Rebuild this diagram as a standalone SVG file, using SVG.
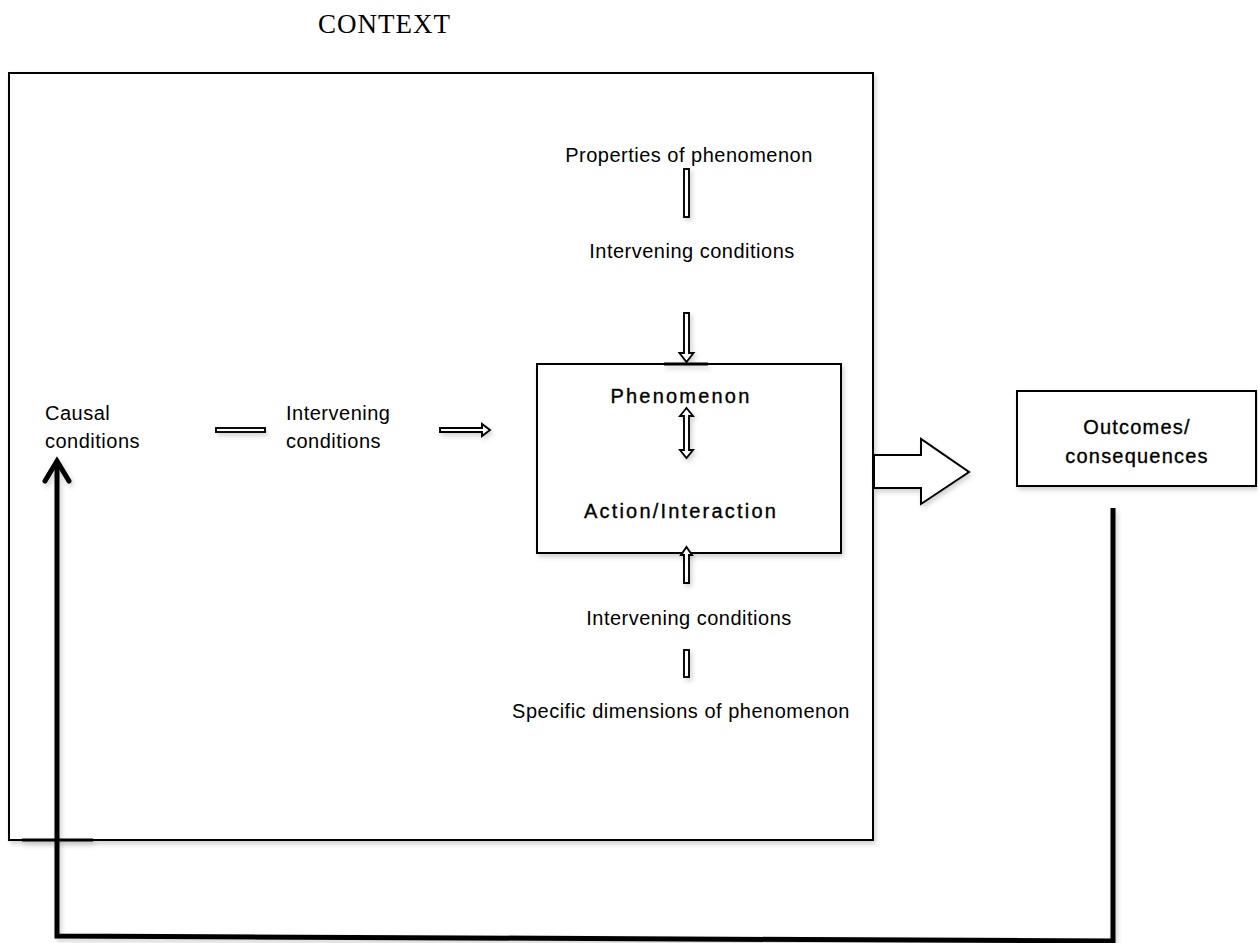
<svg xmlns="http://www.w3.org/2000/svg" width="1258" height="943" viewBox="0 0 1258 943">
<style>
.t{font-family:"Liberation Sans",Arial,sans-serif;font-size:20px;letter-spacing:0.5px;fill:#000}
.b{font-family:"Liberation Sans",Arial,sans-serif;font-size:20px;letter-spacing:2.2px;fill:#000;stroke:#000;stroke-width:0.35}
.box{fill:#fff;stroke:#000;stroke-width:2}
.dbl{fill:#fff;stroke:#000;stroke-width:1.9;stroke-linejoin:miter}
.thick{fill:none;stroke:#000;stroke-width:5;stroke-linejoin:miter}
</style>
<defs>
<filter id="sh" x="-10%" y="-10%" width="120%" height="120%">
<feDropShadow dx="2" dy="3" stdDeviation="2.5" flood-color="#000" flood-opacity="0.18"/>
</filter>
</defs>
<rect width="1258" height="943" fill="#fff"/>
<text x="318" y="33" font-family="Liberation Serif,'Times New Roman',serif" font-size="27" letter-spacing="1" fill="#000">CONTEXT</text>
<g id="context">
<rect class="box" x="9" y="73" width="864" height="767" filter="url(#sh)"/>
</g>
<g id="properties"><text class="t" x="689" y="162" text-anchor="middle">Properties of phenomenon</text></g>
<g id="intervening-top"><text class="t" x="692" y="258" text-anchor="middle">Intervening conditions</text></g>
<g id="causal"><text class="t" x="45" y="420">Causal</text><text class="t" x="45" y="448">conditions</text></g>
<g id="intervening-left"><text class="t" x="286" y="420">Intervening</text><text class="t" x="286" y="448">conditions</text></g>
<g id="core">
<rect class="box" x="537" y="364" width="304" height="189" filter="url(#sh)"/>
<text class="b" x="681" y="403" text-anchor="middle">Phenomenon</text>
<text class="b" x="681" y="518" text-anchor="middle">Action/Interaction</text>
</g>
<g id="intervening-bottom"><text class="t" x="689" y="625" text-anchor="middle">Intervening conditions</text></g>
<g id="dimensions"><text class="t" x="681" y="718" text-anchor="middle">Specific dimensions of phenomenon</text></g>
<g id="outcomes">
<rect class="box" x="1017" y="391" width="239" height="95" filter="url(#sh)"/>
<text class="b" x="1137" y="434" text-anchor="middle" style="letter-spacing:1.2px">Outcomes/</text>
<text class="b" x="1137" y="463" text-anchor="middle" style="letter-spacing:1.2px">consequences</text>
</g>
<g id="connectors" filter="url(#sh)">
<rect class="dbl" x="684" y="169" width="5" height="48"/>
<polygon class="dbl" points="684,313 689,313 689,353 693.5,353 686.5,362 679.5,353 684,353"/>
<line x1="664" y1="364" x2="708" y2="364" stroke="#000" stroke-width="3"/>
<polygon class="dbl" points="686.5,408 693,416 689,416 689,450 693,450 686.5,458 680,450 684,450 684,416 680,416"/>
<polygon class="dbl" points="686.5,547 692,555 689,555 689,583 684,583 684,555 681,555"/>
<rect class="dbl" x="684" y="650" width="5" height="27"/>
<rect class="dbl" x="216" y="428" width="49" height="4"/>
<polygon class="dbl" points="440,428 482,428 482,424 490,430 482,436 482,432 440,432"/>
<polygon class="box" points="874,455 921,455 921,439 969,472 921,504 921,488 874,488" stroke-width="2"/>
<line x1="22" y1="840" x2="93" y2="840" stroke="#000" stroke-width="3"/>
<path class="thick" d="M1113,508 L1113,941 L57,936 L57,462"/>
<path d="M45,481 L57,461 L69,481" fill="none" stroke="#000" stroke-width="5" stroke-linecap="round" stroke-linejoin="miter"/>
</g>
</svg>
